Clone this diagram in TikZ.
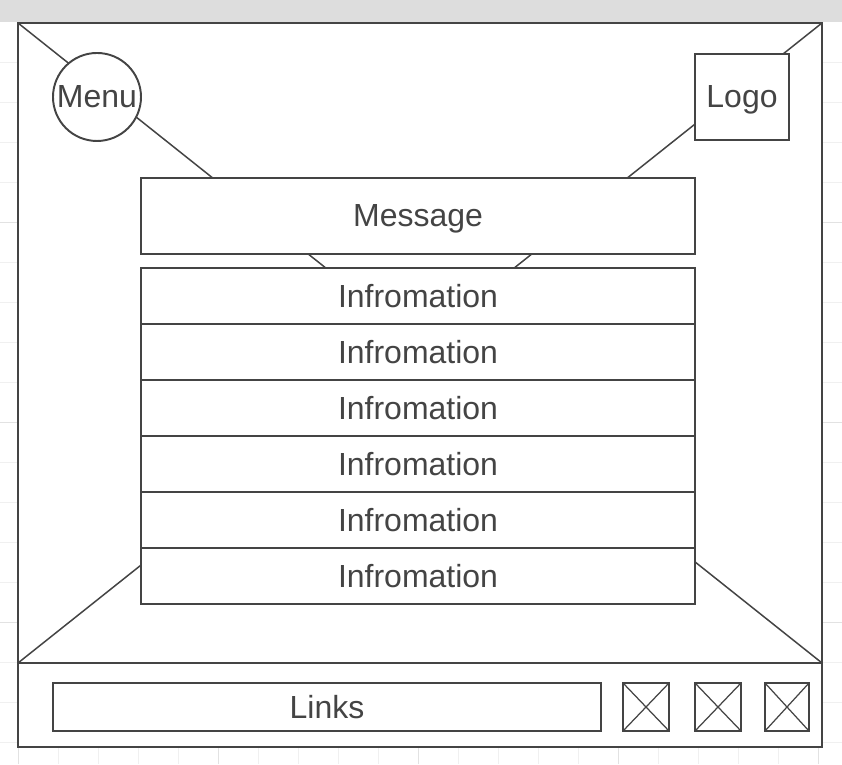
\documentclass[tikz,border=0pt]{standalone}
\usepackage{fontspec}
\setmainfont{Liberation Sans}
\usepackage{tikz}
\usetikzlibrary{positioning, calc}
\definecolor{wfdark}{RGB}{68,68,68}
\definecolor{wfbar}{RGB}{221,221,221}
\definecolor{wfgrid}{RGB}{240,240,240}
\definecolor{wfmajor}{RGB}{226,226,226}
\tikzset{
  panel/.style={rectangle, draw=wfdark, fill=white, line width=1.1pt,
    inner sep=0pt, outer sep=0pt},
  box/.style={rectangle, draw=wfdark, fill=white, line width=1.1pt,
    inner sep=0pt, outer sep=0pt, text=wfdark, text depth=0pt,
    font=\fontsize{18.2pt}{22pt}\selectfont},
  roundbox/.style={circle, draw=wfdark, fill=white, line width=1.1pt,
    inner sep=0pt, outer sep=0pt, minimum size=1.76cm, text=wfdark,
    text depth=0pt, font=\fontsize{18.2pt}{22pt}\selectfont},
  infobox/.style={box, minimum width=11.08cm, minimum height=1.12cm},
  iconbox/.style={box, minimum height=0.96cm},
  diag/.style={draw=wfdark, line width=0.85pt},
  cross/.style={draw=wfdark, line width=0.7pt}
}
\begin{document}
\begin{tikzpicture}
  \useasboundingbox (0,0) rectangle (16.84,15.28);
  % background grid
  \foreach \k in {0,...,17} {
     \draw[wfgrid, line width=0.55pt] (0,{14.04-0.8*\k}) -- (16.84,{14.04-0.8*\k});
  }
  \foreach \k in {0,...,20} {
     \draw[wfgrid, line width=0.55pt] ({0.36+0.8*\k},0) -- ({0.36+0.8*\k},14.84);
  }
  \foreach \y in {10.84, 6.84, 2.84} { \draw[wfmajor, line width=0.55pt] (0,\y) -- (16.84,\y); }
  \foreach \x in {0.36, 4.36, 8.36, 12.36, 16.36} { \draw[wfmajor, line width=0.55pt] (\x,0) -- (\x,14.84); }
  % top bar
  \fill[wfbar] (0,14.84) rectangle (16.84,15.28);
  % page frame
  \node[panel, minimum width=16.08cm, minimum height=12.80cm] (body) at (8.40,8.42) {};
  \node[panel, minimum width=16.08cm, minimum height=1.68cm] (footer) at (8.40,1.18) {};
  \draw[diag] (body.north west) -- (body.south east);
  \draw[diag] (body.north east) -- (body.south west);
  % header items
  \node[roundbox] (menu) at (1.94,13.34) {Menu};
  \node[box, minimum width=1.88cm, minimum height=1.72cm] (logo) at (14.84,13.34) {Logo};
  % content
  \node[box, minimum width=11.08cm, minimum height=1.52cm] (message) at (8.36,10.96) {Message};
  \foreach \i in {1,...,6} {
     \node[infobox] (info\i) at (8.36,{9.36-1.12*(\i-1)}) {Infromation};
  }
  % footer items
  \node[box, minimum width=10.96cm, minimum height=0.96cm] (links) at (6.54,1.14) {Links};
  \foreach \n/\x/\w in {1/12.92/0.92, 2/14.36/0.92, 3/15.74/0.88} {
     \node[iconbox, minimum width=\w cm] (icon\n) at (\x,1.14) {};
     \draw[cross] (icon\n.north west) -- (icon\n.south east);
     \draw[cross] (icon\n.north east) -- (icon\n.south west);
  }
\end{tikzpicture}
\end{document}
